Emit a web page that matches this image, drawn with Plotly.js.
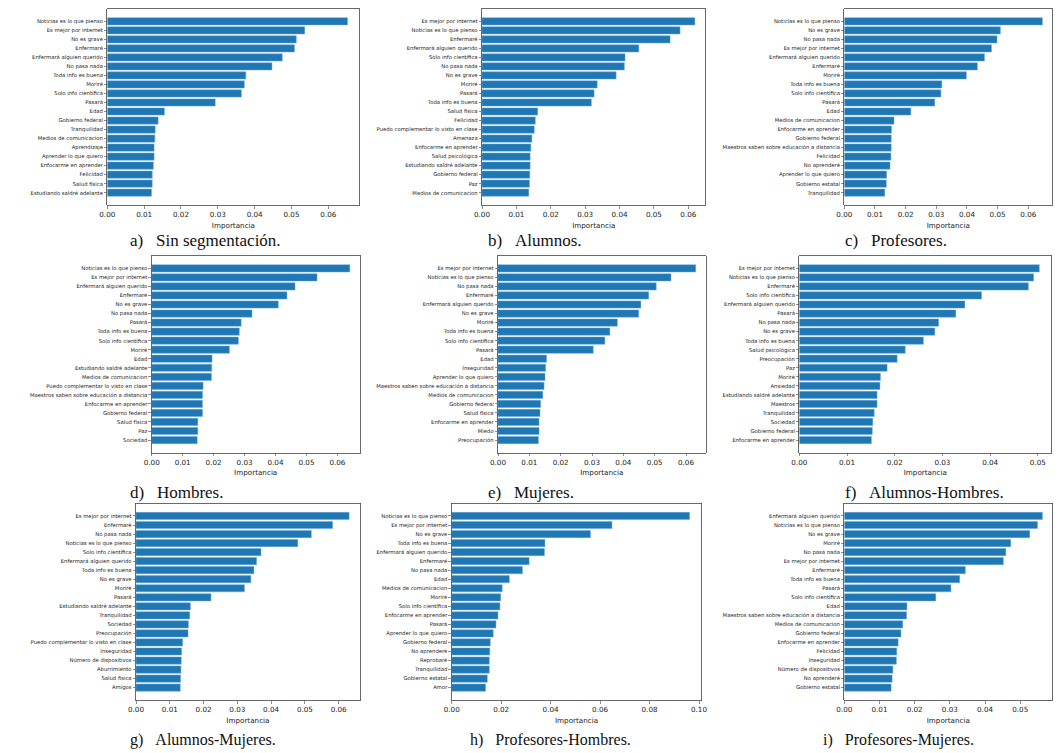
<!DOCTYPE html>
<html><head><meta charset="utf-8">
<script src="https://cdn.plot.ly/plotly-3.0.1.min.js"></script>
<style>body{margin:0;background:#fff}#chart{width:1061px;height:753px}</style>
</head><body><div id="chart"></div>
<script>
// a) Sin segmentación
const labelsA = ["Noticias es lo que pienso","Es mejor por internet","No es grave","Enfermaré","Enfermará alguien querido","No pasa nada","Toda info es buena","Moriré","Solo info científica","Pasará","Edad","Gobierno federal","Tranquilidad","Medios de comunicacion","Aprendizaje","Aprender lo que quiero","Enfocarme en aprender","Felicidad","Salud física","Estudiando saldré adelante"];
const valuesA = [0.0652,0.0536,0.0513,0.0508,0.0475,0.0447,0.0376,0.0372,0.0364,0.0293,0.0155,0.0138,0.0130,0.0129,0.0127,0.0127,0.0125,0.0122,0.0122,0.0120];
// b) Alumnos
const labelsB = ["Es mejor por internet","Noticias es lo que pienso","Enfermaré","Enfermará alguien querido","Solo info científica","No pasa nada","No es grave","Moriré","Pasará","Toda info es buena","Salud física","Felicidad","Puedo complementar lo visto en clase","Amenaza","Enfocarme en aprender","Salud psicológica","Estudiando saldré adelante","Gobierno federal","Paz","Medios de comunicacion"];
const valuesB = [0.0619,0.0576,0.0547,0.0456,0.0416,0.0414,0.0390,0.0335,0.0326,0.0318,0.0162,0.0155,0.0152,0.0145,0.0142,0.0140,0.0140,0.0139,0.0138,0.0136];
// c) Profesores
const labelsC = ["Noticias es lo que pienso","No es grave","No pasa nada","Es mejor por internet","Enfermará alguien querido","Enfermaré","Moriré","Toda info es buena","Solo info científica","Pasará","Edad","Medios de comunicacion","Enfocarme en aprender","Gobierno federal","Maestros saben sobre educación a distancia","Felicidad","No aprenderé","Aprender lo que quiero","Gobierno estatal","Tranquilidad"];
const valuesC = [0.0646,0.0509,0.0498,0.0480,0.0457,0.0434,0.0398,0.0318,0.0315,0.0295,0.0217,0.0162,0.0154,0.0153,0.0153,0.0152,0.0149,0.0138,0.0137,0.0132];
// d) Hombres
const labelsD = ["Noticias es lo que pienso","Es mejor por internet","Enfermará alguien querido","Enfermaré","No es grave","No pasa nada","Pasará","Toda info es buena","Solo info científica","Moriré","Edad","Estudiando saldré adelante","Medios de comunicacion","Puedo complementar lo visto en clase","Maestros saben sobre educación a distancia","Enfocarme en aprender","Gobierno federal","Salud física","Paz","Sociedad"];
const valuesD = [0.0640,0.0534,0.0463,0.0437,0.0409,0.0324,0.0289,0.0283,0.0280,0.0251,0.0195,0.0194,0.0193,0.0166,0.0164,0.0164,0.0164,0.0149,0.0149,0.0147];
// e) Mujeres
const labelsE = ["Es mejor por internet","Noticias es lo que pienso","No pasa nada","Enfermaré","Enfermará alguien querido","No es grave","Moriré","Toda info es buena","Solo info científica","Pasará","Edad","Inseguridad","Aprender lo que quiero","Maestros saben sobre educación a distancia","Medios de comunicacion","Gobierno federal","Salud física","Enfocarme en aprender","Miedo","Preocupación"];
const valuesE = [0.0631,0.0552,0.0505,0.0481,0.0456,0.0449,0.0381,0.0357,0.0341,0.0304,0.0155,0.0152,0.0150,0.0147,0.0143,0.0136,0.0134,0.0131,0.0131,0.0129];
// f) Alumnos-Hombres
const labelsF = ["Es mejor por internet","Noticias es lo que pienso","Enfermaré","Solo info científica","Enfermará alguien querido","Pasará","No pasa nada","No es grave","Toda info es buena","Salud psicológica","Preocupación","Paz","Moriré","Ansiedad","Estudiando saldré adelante","Maestros","Tranquilidad","Sociedad","Gobierno federal","Enfocarme en aprender"];
const valuesF = [0.0503,0.0491,0.0480,0.0382,0.0347,0.0328,0.0292,0.0284,0.0260,0.0222,0.0205,0.0184,0.0170,0.0169,0.0163,0.0163,0.0157,0.0154,0.0153,0.0151];
// g) Alumnos-Mujeres
const labelsG = ["Es mejor por internet","Enfermaré","No pasa nada","Noticias es lo que pienso","Solo info científica","Enfermará alguien querido","Toda info es buena","No es grave","Moriré","Pasará","Estudiando saldré adelante","Tranquilidad","Sociedad","Preocupación","Puedo complementar lo visto en clase","Inseguridad","Número de dispositivos","Aburrimiento","Salud física","Amigos"];
const valuesG = [0.0631,0.0582,0.0519,0.0479,0.0370,0.0357,0.0349,0.0340,0.0321,0.0222,0.0161,0.0159,0.0155,0.0154,0.0138,0.0135,0.0134,0.0133,0.0132,0.0131];
// h) Profesores-Hombres
const labelsH = ["Noticias es lo que pienso","Es mejor por internet","No es grave","Toda info es buena","Enfermará alguien querido","Enfermaré","No pasa nada","Edad","Medios de comunicacion","Moriré","Solo info científica","Enfocarme en aprender","Pasará","Aprender lo que quiero","Gobierno federal","No aprenderé","Reprobaré","Tranquilidad","Gobierno estatal","Amor"];
const valuesH = [0.0962,0.0648,0.0561,0.0377,0.0375,0.0313,0.0286,0.0233,0.0204,0.0198,0.0195,0.0187,0.0179,0.0168,0.0156,0.0154,0.0152,0.0152,0.0144,0.0137];
// i) Profesores-Mujeres
const labelsI = ["Enfermará alguien querido","Noticias es lo que pienso","No es grave","Moriré","No pasa nada","Es mejor por internet","Enfermaré","Toda info es buena","Pasará","Solo info científica","Edad","Maestros saben sobre educación a distancia","Medios de comunicacion","Gobierno federal","Enfocarme en aprender","Felicidad","Inseguridad","Número de dispositivos","No aprenderé","Gobierno estatal"];
const valuesI = [0.0563,0.0549,0.0527,0.0473,0.0459,0.0452,0.0344,0.0328,0.0303,0.0260,0.0178,0.0177,0.0166,0.0161,0.0153,0.0149,0.0148,0.0138,0.0136,0.0133];

const captions = ["a)\u00a0\u00a0\u00a0Sin segmentación.","b)\u00a0\u00a0\u00a0Alumnos.","c)\u00a0\u00a0\u00a0Profesores.","d)\u00a0\u00a0\u00a0Hombres.","e)\u00a0\u00a0\u00a0Mujeres.","f)\u00a0\u00a0\u00a0Alumnos-Hombres.","g)\u00a0\u00a0\u00a0Alumnos-Mujeres.","h)\u00a0\u00a0\u00a0Profesores-Hombres.","i)\u00a0\u00a0\u00a0Profesores-Mujeres."];
const xTitle = "Importancia";

const W = 1061, H = 753;
const panels = [
  {lab: labelsA, val: valuesA, x0: 107.3, x1: 359.5, row: 0, dtick: 0.01, capX: 128},
  {lab: labelsB, val: valuesB, x0: 482.0, x1: 705.5, row: 0, dtick: 0.01, capX: 486},
  {lab: labelsC, val: valuesC, x0: 844.3, x1: 1052.3, row: 0, dtick: 0.01, capX: 843},
  {lab: labelsD, val: valuesD, x0: 151.7, x1: 359.7, row: 1, dtick: 0.01, capX: 128},
  {lab: labelsE, val: valuesE, x0: 498.0, x1: 705.6, row: 1, dtick: 0.01, capX: 486},
  {lab: labelsF, val: valuesF, x0: 799.3, x1: 1051.3, row: 1, dtick: 0.01, capX: 843},
  {lab: labelsG, val: valuesG, x0: 136.0, x1: 359.8, row: 2, dtick: 0.01, capX: 128},
  {lab: labelsH, val: valuesH, x0: 451.7, x1: 701.5, row: 2, dtick: 0.02, capX: 468},
  {lab: labelsI, val: valuesI, x0: 844.3, x1: 1052.3, row: 2, dtick: 0.01, capX: 821}
];
const rows = [[8.8, 205.2], [255.8, 452.6], [503.4, 700.2]];
const capY = [241, 492, 740];

const traces = [];
const layout = {
  width: W, height: H, margin: {l: 0, r: 0, t: 0, b: 0},
  paper_bgcolor: '#fff', plot_bgcolor: '#fff', showlegend: false,
  font: {family: 'DejaVu Sans', color: '#222'},
  annotations: []
};
panels.forEach((p, i) => {
  const n = i + 1, sfx = n === 1 ? '' : String(n);
  traces.push({
    type: 'bar', orientation: 'h', x: p.val, y: p.lab,
    xaxis: 'x' + sfx, yaxis: 'y' + sfx, width: 0.8,
    marker: {color: '#1f77b4', line: {color: '#6fa6d4', width: 0.5}},
    hoverinfo: 'skip'
  });
  const maxV = Math.max(...p.val);
  const [t, b] = rows[p.row];
  layout['xaxis' + sfx] = {
    domain: [p.x0 / W, p.x1 / W], anchor: 'y' + sfx,
    range: [0, maxV * 1.05], dtick: p.dtick, tick0: 0, tickformat: '.2f',
    showgrid: false, zeroline: false, showline: true, mirror: true,
    linecolor: '#444', linewidth: 0.8, ticks: 'outside', ticklen: 2.5, tickwidth: 0.6,
    tickcolor: '#444', tickfont: {size: 7.2, color: '#222'},
    title: {text: xTitle, font: {size: 7.2, color: '#222'}, standoff: 4}
  };
  layout['yaxis' + sfx] = {
    domain: [1 - b / H, 1 - t / H], anchor: 'x' + sfx,
    type: 'category', categoryorder: 'array', categoryarray: p.lab,
    range: [p.lab.length - 1 + 1.39, -1.39],
    showgrid: false, zeroline: false, showline: true, mirror: true,
    linecolor: '#444', linewidth: 0.8, ticks: 'outside', ticklen: 2.5, tickwidth: 0.6,
    tickcolor: '#444', tickfont: {size: 5.3, color: '#222'}
  };
  layout.annotations.push({
    text: captions[i], xref: 'paper', yref: 'paper',
    x: p.capX / W, y: 1 - capY[p.row] / H, xanchor: 'left', yanchor: 'middle',
    showarrow: false, font: {family: 'Liberation Serif', size: p.row === 2 ? 16 : 17, color: '#111'}
  });
});
Plotly.newPlot('chart', traces, layout, {staticPlot: true, displayModeBar: false});
</script>
</body></html>
